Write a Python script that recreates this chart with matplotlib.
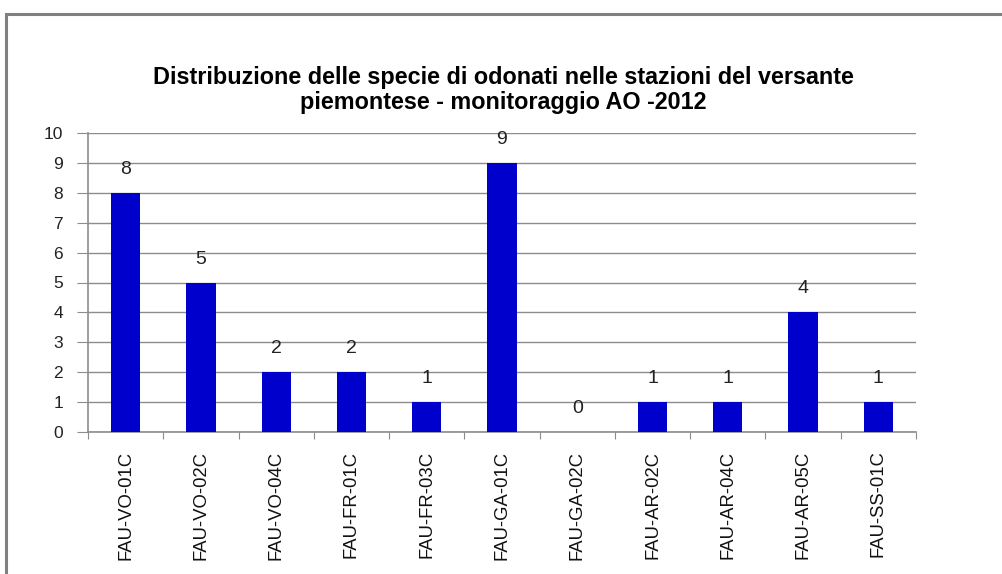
import matplotlib
matplotlib.use("Agg")
import matplotlib.pyplot as plt
from matplotlib.patches import Rectangle

stations = ["FAU-VO-01C", "FAU-VO-02C", "FAU-VO-04C", "FAU-FR-01C", "FAU-FR-03C",
            "FAU-GA-01C", "FAU-GA-02C", "FAU-AR-02C", "FAU-AR-04C", "FAU-AR-05C", "FAU-SS-01C"]
species = [8, 5, 2, 2, 1, 9, 0, 1, 1, 4, 1]
yticks = list(range(0, 11))
title = "Distribuzione delle specie di odonati nelle stazioni del versante\npiemontese - monitoraggio AO -2012"

plt.rcParams['font.family'] = ['Liberation Sans', 'DejaVu Sans']
W, H = 1003, 574
fig = plt.figure(figsize=(W / 100, H / 100), dpi=100)

# outer chart frame
fig.add_artist(Rectangle((6 / W, -0.1), 1.2, (H - 14) / H + 0.1, transform=fig.transFigure,
                         fill=False, edgecolor='#808080', linewidth=2.2))

left, right, top, bottom = 88, 916, 133, 432
ax = fig.add_axes([left / W, 1 - bottom / H, (right - left) / W, (bottom - top) / H])
n = len(stations)
x = list(range(n))
ax.bar(x, species, width=0.39, color='#0000CC', zorder=3)
ax.set_xlim(-0.5, n - 0.5)
ax.set_ylim(0, 10)
ax.set_yticks(yticks)
ax.set_yticklabels([str(v) for v in yticks], fontsize=12.5, color='#222222')
ax.yaxis.grid(True, color='#8c8c8c', linewidth=1, zorder=0)
for s in ['top', 'right']:
    ax.spines[s].set_visible(False)
for s in ['left', 'bottom']:
    ax.spines[s].set_color('#8c8c8c')
    ax.spines[s].set_linewidth(1.2)
ax.tick_params(axis='y', length=8, color='#8c8c8c', pad=10)
ax.set_xticks([i + 0.5 for i in range(-1, n)], minor=False)
ax.set_xticklabels([])
ax.tick_params(axis='x', length=5, color='#8c8c8c')
for i, lab in enumerate(stations):
    ax.text(i, -0.62, lab, rotation=90, ha='center', va='top', fontsize=13.3,
            color='#111111', transform=ax.transData)
for i, v in enumerate(species):
    ax.text(i, v + 0.5, str(v), ha='center', va='bottom', fontsize=14, color='#222222')

fig.text((left + right) / 2 / W + 0.001, 1 - 90 / H, title, ha='center', va='center',
         fontsize=16.8, fontweight='bold', linespacing=1.08)

fig.savefig("out.png", dpi=100)
